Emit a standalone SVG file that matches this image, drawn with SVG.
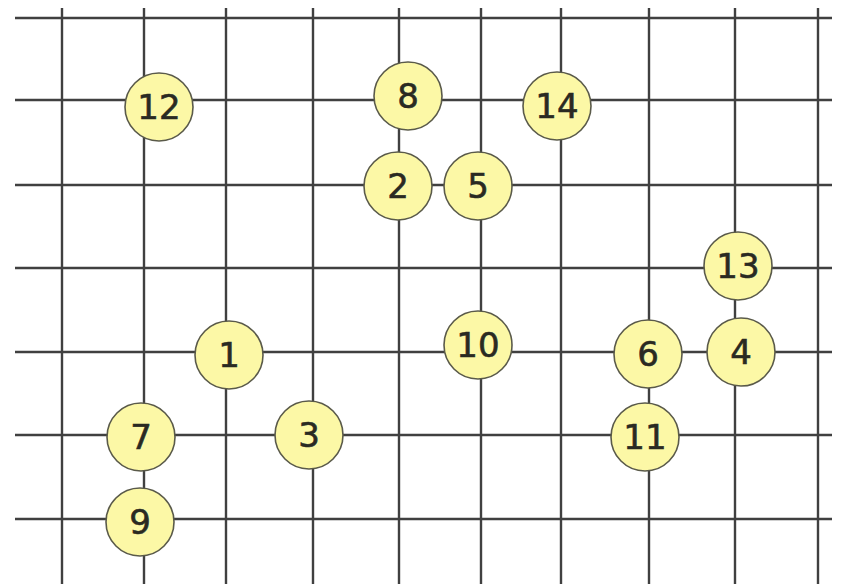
<svg xmlns="http://www.w3.org/2000/svg" width="842" height="584" viewBox="0 0 842 584">
<style>
.g line{stroke:#404040;stroke-width:2.4}
.n circle{fill:#fcf8a6;stroke:#5a5a4a;stroke-width:1.6}
.n text{font-family:"DejaVu Sans",sans-serif;font-size:34px;fill:#2a2a22;stroke:#2a2a22;stroke-width:0.6;text-anchor:middle}
</style>
<rect width="842" height="584" fill="#fff"/>
<g id="connectors" class="g">
<line x1="15" y1="18" x2="832" y2="18"/>
<line x1="15" y1="100" x2="832" y2="100"/>
<line x1="15" y1="185" x2="832" y2="185"/>
<line x1="15" y1="268" x2="832" y2="268"/>
<line x1="15" y1="352" x2="832" y2="352"/>
<line x1="15" y1="435" x2="832" y2="435"/>
<line x1="15" y1="519" x2="832" y2="519"/>
<line x1="62" y1="8" x2="62" y2="584"/>
<line x1="144" y1="8" x2="144" y2="584"/>
<line x1="226" y1="8" x2="226" y2="584"/>
<line x1="313" y1="8" x2="313" y2="584"/>
<line x1="399" y1="8" x2="399" y2="584"/>
<line x1="481" y1="8" x2="481" y2="584"/>
<line x1="561" y1="8" x2="561" y2="584"/>
<line x1="649" y1="8" x2="649" y2="584"/>
<line x1="735" y1="8" x2="735" y2="584"/>
<line x1="818" y1="8" x2="818" y2="584"/>
</g>
<g id="n12" class="n"><circle cx="159" cy="107" r="34"/><text x="159" y="119">12</text></g>
<g id="n8" class="n"><circle cx="408" cy="96" r="34"/><text x="408" y="108">8</text></g>
<g id="n14" class="n"><circle cx="557" cy="106" r="34"/><text x="557" y="118">14</text></g>
<g id="n2" class="n"><circle cx="398" cy="186" r="34"/><text x="398" y="198">2</text></g>
<g id="n5" class="n"><circle cx="478" cy="186" r="34"/><text x="478" y="198">5</text></g>
<g id="n13" class="n"><circle cx="738" cy="266" r="34"/><text x="738" y="278">13</text></g>
<g id="n10" class="n"><circle cx="478" cy="345" r="34"/><text x="478" y="357">10</text></g>
<g id="n6" class="n"><circle cx="648" cy="354" r="34"/><text x="648" y="366">6</text></g>
<g id="n4" class="n"><circle cx="741" cy="352" r="34"/><text x="741" y="364">4</text></g>
<g id="n11" class="n"><circle cx="645" cy="437" r="34"/><text x="645" y="449">11</text></g>
<g id="n1" class="n"><circle cx="229" cy="355" r="34"/><text x="229" y="367">1</text></g>
<g id="n7" class="n"><circle cx="141" cy="437" r="34"/><text x="141" y="449">7</text></g>
<g id="n3" class="n"><circle cx="309" cy="435" r="34"/><text x="309" y="447">3</text></g>
<g id="n9" class="n"><circle cx="140" cy="522" r="34"/><text x="140" y="534">9</text></g>
</svg>
